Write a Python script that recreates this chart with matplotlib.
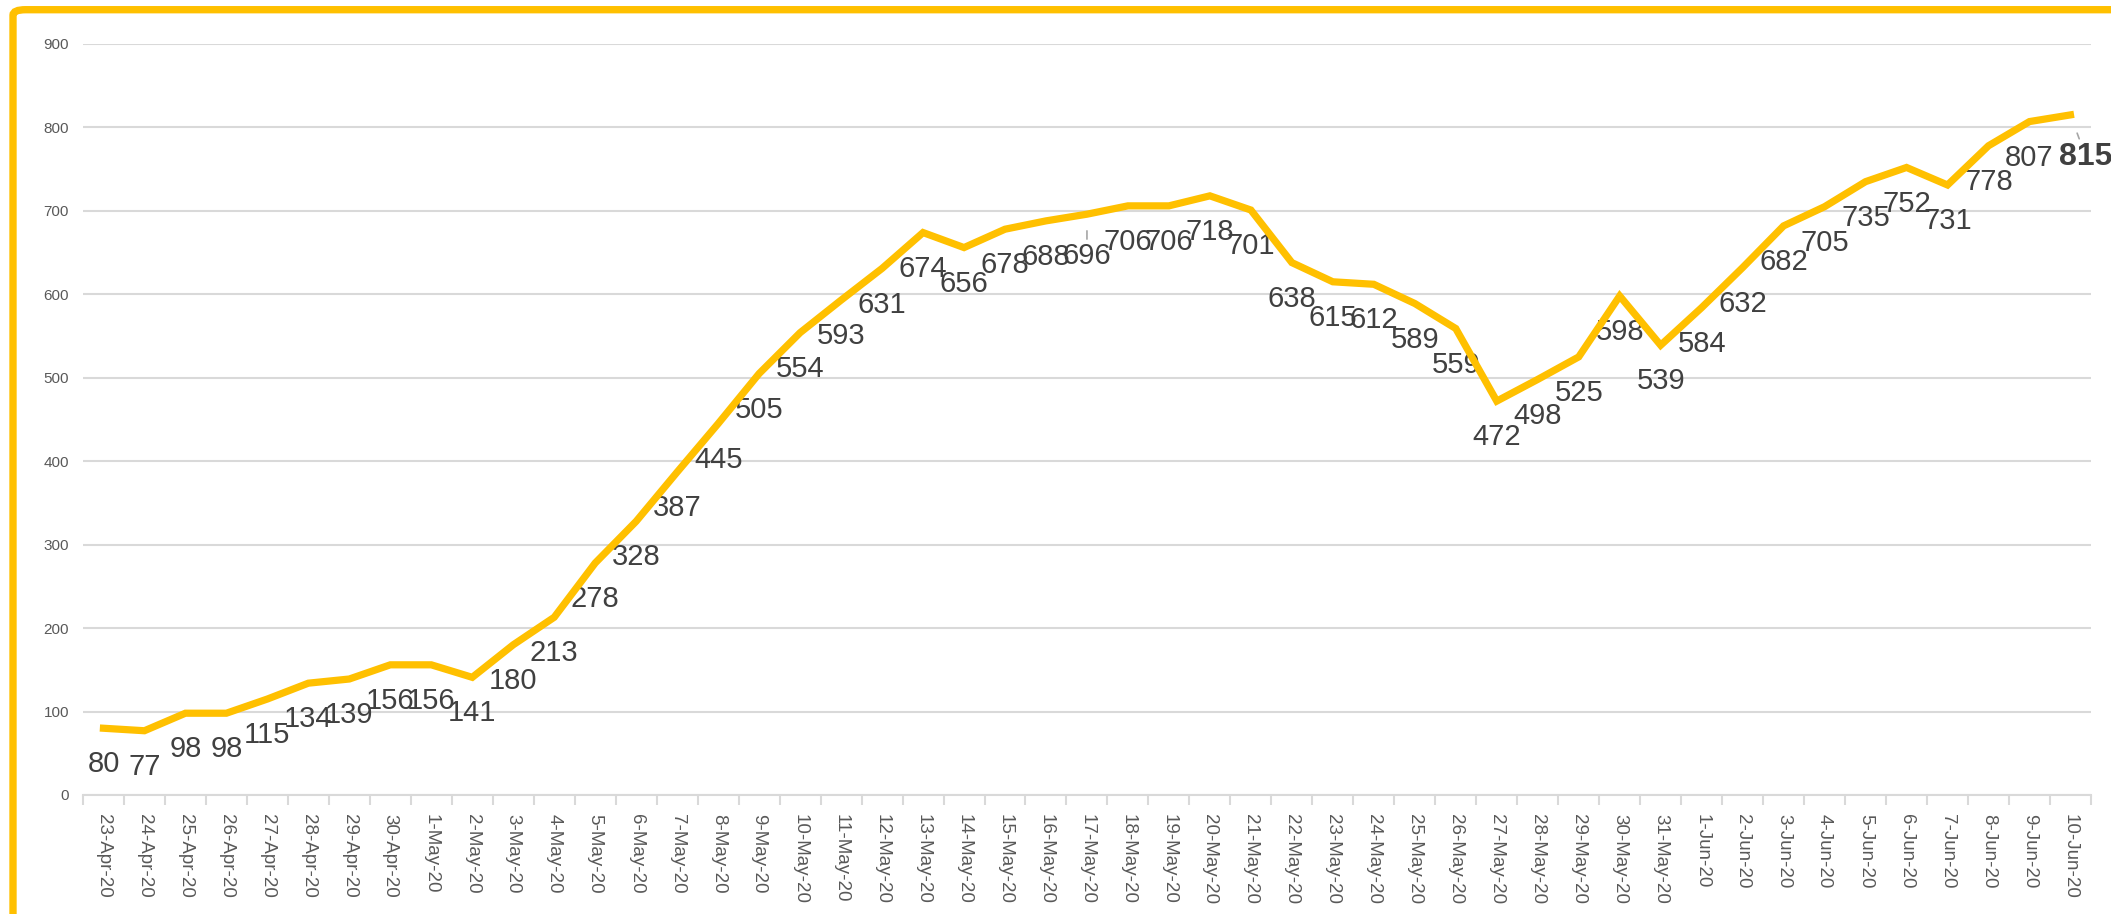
import matplotlib.pyplot as plt
from matplotlib import font_manager
from matplotlib.patches import FancyBboxPatch

# daily values, 23-Apr-20 .. 10-Jun-20
dates = ["23-Apr-20", "24-Apr-20", "25-Apr-20", "26-Apr-20", "27-Apr-20", "28-Apr-20",
         "29-Apr-20", "30-Apr-20"] + [f"{d}-May-20" for d in range(1, 32)] + \
        [f"{d}-Jun-20" for d in range(1, 11)]
values = [80, 77, 98, 98, 115, 134, 139, 156,
          156, 141, 180, 213, 278, 328, 387, 445, 505, 554, 593, 631, 674, 656, 678, 688,
          696, 706, 706, 718, 701, 638, 615, 612, 589, 559, 472, 498, 525, 598, 539,
          584, 632, 682, 705, 735, 752, 731, 778, 807, 815]
yticks = list(range(0, 1000, 100))

names = {f.name for f in font_manager.fontManager.ttflist}
font = "Liberation Sans Narrow" if "Liberation Sans Narrow" in names else "Liberation Sans"
plt.rcParams["font.family"] = [font, "DejaVu Sans"]

yellow = "#FFC000"
grey = "#595959"

fig = plt.figure(figsize=(21.11, 9.14), dpi=100)
ax = fig.add_axes([0.0393, 0.1302, 0.9512, 0.8217])

x = list(range(len(values)))
ax.plot(x, values, color=yellow, linewidth=5.2, solid_joinstyle="miter", zorder=4)

ax.set_xlim(-0.5, len(values) - 0.5)
ax.set_ylim(0, 900)
ax.set_yticks(yticks)
ax.set_yticklabels([str(v) for v in yticks], fontsize=11, color=grey)
ax.set_xticks(x)
ax.set_xticklabels(dates, rotation=-90, fontsize=13.5, color=grey)
ax.tick_params(axis="y", length=0, pad=10)
ax.tick_params(axis="x", length=0, pad=14)
# tick marks between categories
ax.set_xticks([i - 0.5 for i in range(len(values) + 1)], minor=True)
ax.tick_params(axis="x", which="minor", length=7, width=1.5, color="#D9D9D9")
for lbl in ax.get_xticklabels():
    lbl.set_va("top")
    lbl.set_ha("center")

ax.grid(axis="y", color="#D9D9D9", linewidth=1.5)
ax.set_axisbelow(True)
for s in ["top", "right", "left"]:
    ax.spines[s].set_visible(False)
ax.spines["bottom"].set_color("#D9D9D9")
ax.spines["bottom"].set_linewidth(1.5)

# data labels below points
last = len(values) - 1
for i, v in enumerate(values):
    if i == last:
        ax.annotate(str(v), (i, v), xytext=(11, -30), textcoords="offset points",
                    ha="center", va="center", fontsize=23, fontweight="bold", color="#404040",
                    arrowprops=dict(arrowstyle="-", color="#A6A6A6", lw=1.2, shrinkA=0, shrinkB=14),
                    annotation_clip=False, zorder=3)
    elif dates[i] == "17-May-20":
        ax.annotate(str(v), (i, v), xytext=(0, -30), textcoords="offset points",
                    ha="center", va="center", fontsize=21, color="#404040",
                    arrowprops=dict(arrowstyle="-", color="#A6A6A6", lw=1.2, shrinkA=0, shrinkB=12),
                    zorder=3)
    else:
        ax.annotate(str(v), (i, v), xytext=(0, -26), textcoords="offset points",
                    ha="center", va="center", fontsize=21, color="#404040", zorder=3)

# yellow frame around the chart
frame = FancyBboxPatch((13 / 2111, -0.2), 1.5, 1.2 - 9.7 / 914,
                       boxstyle="round,pad=0,rounding_size=0.006",
                       transform=fig.transFigure, fill=False, edgecolor=yellow,
                       linewidth=5.3, clip_on=False)
fig.patches.append(frame)

fig.savefig("out.png", dpi=100)
